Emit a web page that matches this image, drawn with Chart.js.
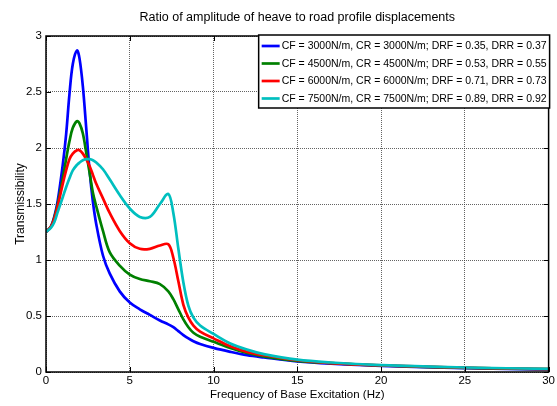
<!DOCTYPE html>
<html>
<head>
<meta charset="utf-8">
<script src="https://cdn.jsdelivr.net/npm/chart.js@4"></script>
<style>
  html, body { margin: 0; padding: 0; background: #fff; }
  #wrap { width: 557px; height: 406px; }
</style>
</head>
<body>
<div id="wrap"><canvas id="c" width="557" height="406"></canvas></div>
<script>
const chartTitle = "Ratio of amplitude of heave to road profile displacements";
const xTitle = "Frequency of Base Excitation (Hz)";
const yTitle = "Transmissibility";

const seriesLabels = [
  "CF = 3000N/m, CR = 3000N/m; DRF = 0.35, DRR = 0.37",
  "CF = 4500N/m, CR = 4500N/m; DRF = 0.53, DRR = 0.55",
  "CF = 6000N/m, CR = 6000N/m; DRF = 0.71, DRR = 0.73",
  "CF = 7500N/m, CR = 7500N/m; DRF = 0.89, DRR = 0.92"
];
const seriesColors = ["#0000FF", "#008000", "#FF0000", "#00BFBF"];

const freq = [0, 0.3, 0.5, 0.7, 1.0, 1.2, 1.4, 1.6, 1.85, 2.0, 2.2, 2.4, 2.6, 2.8, 3.0, 3.4, 3.8, 4.4, 5.0, 5.6, 6.2, 6.8, 7.3, 7.6, 7.9, 8.2, 8.5, 8.8, 9.2, 10, 11, 12, 13, 15, 17, 20, 25, 30];

const blue  = [1.25, 1.30, 1.39, 1.53, 1.85, 2.12, 2.48, 2.75, 2.87, 2.80, 2.55, 2.18, 1.80, 1.52, 1.32, 1.04, 0.88, 0.72, 0.62, 0.56, 0.51, 0.46, 0.425, 0.40, 0.365, 0.33, 0.30, 0.275, 0.25, 0.215, 0.18, 0.15, 0.13, 0.095, 0.075, 0.055, 0.035, 0.022];
const green = [1.25, 1.30, 1.38, 1.50, 1.73, 1.90, 2.06, 2.18, 2.24, 2.22, 2.13, 1.96, 1.78, 1.60, 1.48, 1.26, 1.07, 0.95, 0.87, 0.83, 0.81, 0.785, 0.72, 0.65, 0.56, 0.47, 0.40, 0.35, 0.315, 0.27, 0.215, 0.17, 0.14, 0.10, 0.08, 0.058, 0.037, 0.025];
const red   = [1.25, 1.30, 1.37, 1.48, 1.68, 1.80, 1.90, 1.95, 1.98, 1.98, 1.95, 1.90, 1.84, 1.76, 1.68, 1.55, 1.42, 1.26, 1.15, 1.10, 1.10, 1.13, 1.14, 1.02, 0.81, 0.60, 0.485, 0.415, 0.36, 0.30, 0.23, 0.18, 0.15, 0.105, 0.08, 0.06, 0.038, 0.026];
const cyan  = [1.25, 1.29, 1.34, 1.43, 1.56, 1.65, 1.73, 1.80, 1.85, 1.87, 1.89, 1.90, 1.90, 1.89, 1.87, 1.81, 1.72, 1.58, 1.46, 1.385, 1.385, 1.50, 1.59, 1.42, 1.10, 0.80, 0.59, 0.485, 0.415, 0.34, 0.255, 0.20, 0.16, 0.11, 0.085, 0.062, 0.04, 0.028];

const xTicks = [0, 5, 10, 15, 20, 25, 30];
const yTicks = [0, 0.5, 1, 1.5, 2, 2.5, 3];

const seriesValues = [blue, green, red, cyan];
const FONT = "'Liberation Sans', Arial, Helvetica, sans-serif";

const datasets = seriesValues.map((vals, i) => ({
  label: seriesLabels[i],
  data: freq.map((f, k) => ({ x: f, y: vals[k] })),
  borderColor: seriesColors[i],
  backgroundColor: seriesColors[i],
  borderWidth: 2.7,
  pointRadius: 0,
  tension: 0.35,
  fill: false,
  order: 3 - i
}));

const framePlugin = {
  id: 'frame',
  afterDraw(chart) {
    const ctx = chart.ctx;
    const a = chart.chartArea;
    const xs = chart.scales.x, ys = chart.scales.y;
    ctx.save();
    ctx.strokeStyle = '#000';
    ctx.lineWidth = 1;
    ctx.beginPath();
    xTicks.forEach(v => {
      const px = Math.round(xs.getPixelForValue(v)) + 0.5;
      ctx.moveTo(px, a.bottom); ctx.lineTo(px, a.bottom - 5);
      ctx.moveTo(px, a.top); ctx.lineTo(px, a.top + 5);
    });
    yTicks.forEach(v => {
      const py = Math.round(ys.getPixelForValue(v)) + 0.5;
      ctx.moveTo(a.left, py); ctx.lineTo(a.left + 5, py);
      ctx.moveTo(a.right, py); ctx.lineTo(a.right - 5, py);
    });
    ctx.stroke();
    ctx.lineWidth = 1.5;
    ctx.strokeRect(a.left, a.top, a.right - a.left, a.bottom - a.top);

    ctx.fillStyle = '#000';
    ctx.font = "12.5px " + FONT;
    ctx.textAlign = 'center';
    ctx.textBaseline = 'middle';
    ctx.fillText(chartTitle, (a.left + a.right) / 2, 18);

    ctx.font = "10.5px " + FONT;
    let maxW = 0;
    chart.data.datasets.forEach(d => { maxW = Math.max(maxW, ctx.measureText(d.label).width); });
    const lineLen = 18, gap = 2, padL = 3, padR = 3, rowH = 17.5;
    const boxW = padL + lineLen + gap + maxW + padR;
    const boxH = rowH * chart.data.datasets.length + 3;
    const bx = a.right - boxW + 1, by = a.top - 1;
    ctx.fillStyle = '#fff';
    ctx.fillRect(bx, by, boxW, boxH);
    ctx.lineWidth = 1.5;
    ctx.strokeStyle = '#000';
    ctx.strokeRect(bx, by, boxW, boxH);
    chart.data.datasets.forEach((d, i) => {
      const cy = by + 11 + i * rowH;
      ctx.strokeStyle = d.borderColor;
      ctx.lineWidth = 2.7;
      ctx.beginPath();
      ctx.moveTo(bx + padL, cy); ctx.lineTo(bx + padL + lineLen, cy);
      ctx.stroke();
      ctx.fillStyle = '#000';
      ctx.textAlign = 'left';
      ctx.textBaseline = 'middle';
      ctx.fillText(d.label, bx + padL + lineLen + gap, cy + 0.5);
    });
    ctx.restore();
  }
};

new Chart(document.getElementById('c'), {
  type: 'line',
  data: { datasets },
  options: {
    responsive: false,
    animation: false,
    devicePixelRatio: 1,
    layout: { padding: { top: 36, right: 7, left: 0, bottom: 0 } },
    plugins: {
      legend: { display: false },
      title: { display: false },
      tooltip: { enabled: false }
    },
    scales: {
      x: {
        type: 'linear',
        min: 0, max: 30,
        afterBuildTicks(scale) { scale.ticks = xTicks.map(v => ({ value: v })); },
        afterFit(scale) { scale.height = 34; },
        ticks: { color: '#000', font: { family: FONT, size: 11.5 }, padding: 2, maxRotation: 0, callback: v => String(v) },
        grid: { color: 'rgba(60,60,60,0.8)', lineWidth: 1, drawTicks: false },
        border: { display: false, dash: [1, 1] },
        title: { display: true, text: xTitle, color: '#000', font: { family: FONT, size: 11.5 }, padding: { top: 0, bottom: 4 } }
      },
      y: {
        type: 'linear',
        min: 0, max: 3,
        afterBuildTicks(scale) { scale.ticks = yTicks.map(v => ({ value: v })); },
        afterFit(scale) { scale.width = 46; },
        ticks: { color: '#000', font: { family: FONT, size: 11.5 }, padding: 4, callback: v => String(v) },
        grid: { color: 'rgba(60,60,60,0.8)', lineWidth: 1, drawTicks: false },
        border: { display: false, dash: [1, 1] },
        title: { display: true, text: yTitle, color: '#000', font: { family: FONT, size: 12 }, padding: { top: 13, bottom: 0 } }
      }
    }
  },
  plugins: [framePlugin]
});
</script>
</body>
</html>
